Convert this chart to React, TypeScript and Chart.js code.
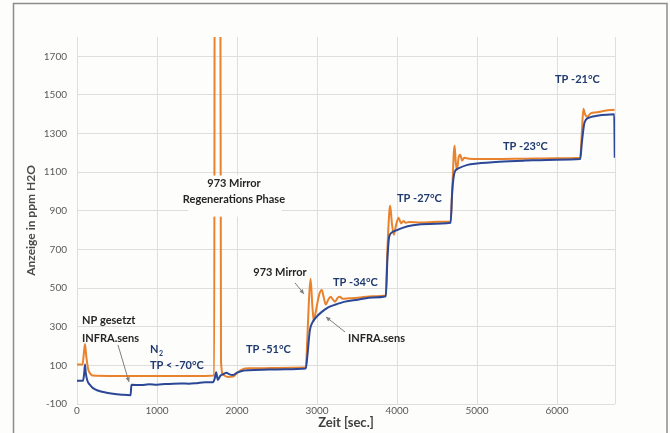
import React, { useEffect, useRef } from 'react';
import { Chart, registerables } from 'chart.js';

Chart.register(...registerables);

// ---- data (time in s, reading in ppm H2O) ----
const mirrorTime = [0, 70, 85, 100, 115, 140, 170, 200, 400, 800, 1200, 1600, 1715, 1722, 1790, 1800, 1830, 1880, 1950, 2000, 2060, 2150, 2300, 2500, 2700, 2860, 2880, 2905, 2920, 2940, 2960, 2985, 3030, 3060, 3085, 3110, 3140, 3170, 3200, 3225, 3260, 3285, 3320, 3400, 3510, 3700, 3860, 3880, 3905, 3915, 3935, 3960, 3990, 4020, 4050, 4080, 4110, 4150, 4300, 4500, 4670, 4690, 4710, 4720, 4735, 4750, 4770, 4790, 4815, 4840, 4900, 5200, 5600, 6000, 6290, 6310, 6330, 6350, 6380, 6420, 6500, 6600, 6720];
const mirrorPpm = [105, 105, 160, 210, 150, 80, 55, 47, 45, 45, 45, 45, 47, 2600, 2600, 120, 50, 40, 42, 60, 78, 85, 85, 87, 88, 90, 250, 480, 548, 420, 330, 380, 470, 490, 450, 415, 440, 455, 440, 430, 450, 455, 445, 447, 450, 458, 462, 700, 900, 926, 840, 776, 830, 864, 835, 848, 838, 842, 840, 843, 845, 1000, 1200, 1237, 1150, 1112, 1175, 1190, 1160, 1175, 1170, 1168, 1170, 1172, 1175, 1300, 1428, 1400, 1387, 1405, 1410, 1418, 1423];

const infraTime = [0, 75, 90, 100, 110, 130, 160, 200, 260, 330, 450, 560, 670, 680, 800, 900, 1000, 1100, 1200, 1300, 1400, 1500, 1600, 1700, 1720, 1740, 1760, 1790, 1830, 1870, 1900, 1950, 2000, 2050, 2150, 2400, 2600, 2860, 2880, 2910, 2940, 2980, 3060, 3140, 3220, 3350, 3510, 3700, 3860, 3880, 3900, 3930, 4000, 4070, 4200, 4400, 4670, 4690, 4720, 4760, 4880, 5000, 5280, 5600, 6000, 6290, 6310, 6340, 6360, 6420, 6500, 6715, 6722];
const infraPpm = [20, 20, 60, 105, 60, 20, 0, -18, -30, -38, -47, -52, -55, 0, -2, 2, 0, 3, 5, 6, 5, 8, 12, 12, 30, 65, 25, 45, 55, 62, 55, 50, 62, 70, 75, 78, 80, 84, 150, 280, 320, 345, 377, 400, 413, 430, 440, 452, 458, 650, 760, 786, 800, 812, 825, 832, 838, 1000, 1100, 1118, 1138, 1145, 1154, 1160, 1165, 1168, 1250, 1350, 1371, 1385, 1392, 1400, 1175];

const xTickValues = [0, 1000, 2000, 3000, 4000, 5000, 6000];
const yTickValues = [-100, 100, 300, 500, 700, 900, 1100, 1300, 1500, 1700];
const X_MAX = 6725;
const Y_MIN = -100;
const Y_MAX = 1800;

const NAVY = '#1f3a6e';
const DARK = '#262626';

// text annotations in data coordinates
const labelTexts = ['NP gesetzt', 'INFRA.sens', 'TP < -70°C', '973 Mirror', 'Regenerations Phase', 'TP -51°C', '973 Mirror', 'TP -34°C', 'INFRA.sens', 'TP -27°C', 'TP -23°C', 'TP -21°C'];
const labelT = [62, 62, 912, 1962, 1962, 2112, 2537, 3200, 3387, 4000, 5325, 5975];
const labelV = [330, 237, 97, 1040, 957, 180, 579, 527, 237, 962, 1231, 1578];
const labelAlign = ['left', 'left', 'left', 'center', 'center', 'left', 'center', 'left', 'left', 'left', 'left', 'left'];
const labelColor = [DARK, DARK, NAVY, DARK, DARK, NAVY, DARK, NAVY, DARK, NAVY, NAVY, NAVY];

// arrows [t0, v0, t1, v1]
const arrows = [
  [512, 206, 650, 14],
  [2725, 527, 2837, 470],
  [3350, 273, 3112, 351],
];

const annotationPlugin = {
  id: 'notes',
  beforeDraw(chart: any) {
    const ctx = chart.ctx;
    ctx.save();
    ctx.fillStyle = '#fdfdfc';
    ctx.fillRect(0, 0, chart.width, chart.height);
    ctx.restore();
  },
  afterDatasetsDraw(chart: any) {
    const ctx = chart.ctx;
    const xs = chart.scales.x;
    const ys = chart.scales.y;
    ctx.save();
    // white box behind the regeneration note
    const bx0 = xs.getPixelForValue(1390);
    const bx1 = xs.getPixelForValue(2560);
    const by0 = ys.getPixelForValue(1083);
    const by1 = ys.getPixelForValue(870);
    ctx.fillStyle = '#fdfdfc';
    ctx.fillRect(bx0, by0, bx1 - bx0, by1 - by0);

    // arrows
    ctx.strokeStyle = '#7f7f7f';
    ctx.fillStyle = '#7f7f7f';
    ctx.lineWidth = 1;
    arrows.forEach(([t0, v0, t1, v1]) => {
      const x0 = xs.getPixelForValue(t0);
      const y0 = ys.getPixelForValue(v0);
      const x1 = xs.getPixelForValue(t1);
      const y1 = ys.getPixelForValue(v1);
      ctx.beginPath();
      ctx.moveTo(x0, y0);
      ctx.lineTo(x1, y1);
      ctx.stroke();
      const ang = Math.atan2(y1 - y0, x1 - x0);
      const L = 5;
      ctx.beginPath();
      ctx.moveTo(x1, y1);
      ctx.lineTo(x1 - L * Math.cos(ang - 0.45), y1 - L * Math.sin(ang - 0.45));
      ctx.lineTo(x1 - L * Math.cos(ang + 0.45), y1 - L * Math.sin(ang + 0.45));
      ctx.closePath();
      ctx.fill();
    });

    // texts
    ctx.font = 'bold 11px Lato, "Open Sans", sans-serif';
    ctx.textBaseline = 'middle';
    labelTexts.forEach((txt, i) => {
      ctx.fillStyle = labelColor[i];
      ctx.textAlign = labelAlign[i];
      ctx.fillText(txt, xs.getPixelForValue(labelT[i]), ys.getPixelForValue(labelV[i]));
    });
    // N2 with subscript
    const nx = xs.getPixelForValue(912);
    const ny = ys.getPixelForValue(180);
    ctx.fillStyle = NAVY;
    ctx.textAlign = 'left';
    ctx.fillText('N', nx, ny);
    const nw = ctx.measureText('N').width;
    ctx.font = 'bold 7px Lato, "Open Sans", sans-serif';
    ctx.fillText('2', nx + nw + 0.5, ny + 4);

    // frame
    ctx.strokeStyle = '#8c8c8c';
    ctx.lineWidth = 1.5;
    ctx.strokeRect(13.5, 3.5, 653.5, 440);
    ctx.restore();
  },
};

export default function App() {
  const ref = useRef<HTMLCanvasElement | null>(null);

  useEffect(() => {
    if (!ref.current) return;
    const mirror = mirrorTime.map((t, i) => ({ x: t, y: mirrorPpm[i] }));
    const infra = infraTime.map((t, i) => ({ x: t, y: infraPpm[i] }));
    const chart = new Chart(ref.current, {
      type: 'line',
      data: {
        datasets: [
          {
            label: '973 Mirror',
            data: mirror,
            borderColor: '#e8822c',
            borderWidth: 2,
            pointRadius: 0,
            cubicInterpolationMode: 'monotone',
            order: 2,
          },
          {
            label: 'INFRA.sens',
            data: infra,
            borderColor: '#2b4796',
            borderWidth: 2,
            pointRadius: 0,
            cubicInterpolationMode: 'monotone',
            order: 1,
          },
        ],
      },
      options: {
        responsive: false,
        animation: false,
        layout: { padding: { left: 24, right: 55, top: 37, bottom: 2 } },
        plugins: {
          legend: { display: false },
          tooltip: { enabled: false },
        },
        scales: {
          x: {
            type: 'linear',
            min: 0,
            max: X_MAX,
            afterBuildTicks: (s: any) => {
              s.ticks = [...xTickValues, X_MAX].map((v) => ({ value: v }));
            },
            afterFit: (s: any) => {
              s.height = 27;
            },
            ticks: {
              padding: 1,
              color: '#595959',
              font: { family: 'Lato, sans-serif', size: 10 },
              maxRotation: 0,
              callback: (v: any) => (xTickValues.includes(Number(v)) ? String(v) : ''),
            },
            grid: { color: '#dedede', drawTicks: false, lineWidth: 1 },
            border: { display: false },
            title: {
              display: true,
              text: 'Zeit [sec.]',
              color: '#404040',
              font: { family: 'Lato, sans-serif', size: 13, weight: 'bold' },
              padding: { top: 0, bottom: 0 },
            },
          },
          y: {
            type: 'linear',
            min: Y_MIN,
            max: Y_MAX,
            afterBuildTicks: (s: any) => {
              s.ticks = yTickValues.map((v) => ({ value: v }));
            },
            afterFit: (s: any) => {
              s.width = 53;
            },
            ticks: {
              padding: 10,
              color: '#595959',
              font: { family: 'Lato, sans-serif', size: 10 },
              callback: (v: any) => String(v),
            },
            grid: { color: '#dedede', drawTicks: false, lineWidth: 1 },
            border: { display: false },
            title: {
              display: true,
              text: 'Anzeige in ppm H2O',
              color: '#4a4a4a',
              font: { family: 'Lato, sans-serif', size: 12, weight: 'bold' },
              padding: { top: 0, bottom: 0 },
            },
          },
        },
      },
      plugins: [annotationPlugin],
    } as any);
    return () => chart.destroy();
  }, []);

  return (
    <div style={{ position: 'fixed', left: 0, top: 0, width: 670, height: 433, background: '#fdfdfc' }}>
      <canvas ref={ref} width={670} height={433} style={{ display: 'block', width: 670, height: 433 }} />
    </div>
  );
}
